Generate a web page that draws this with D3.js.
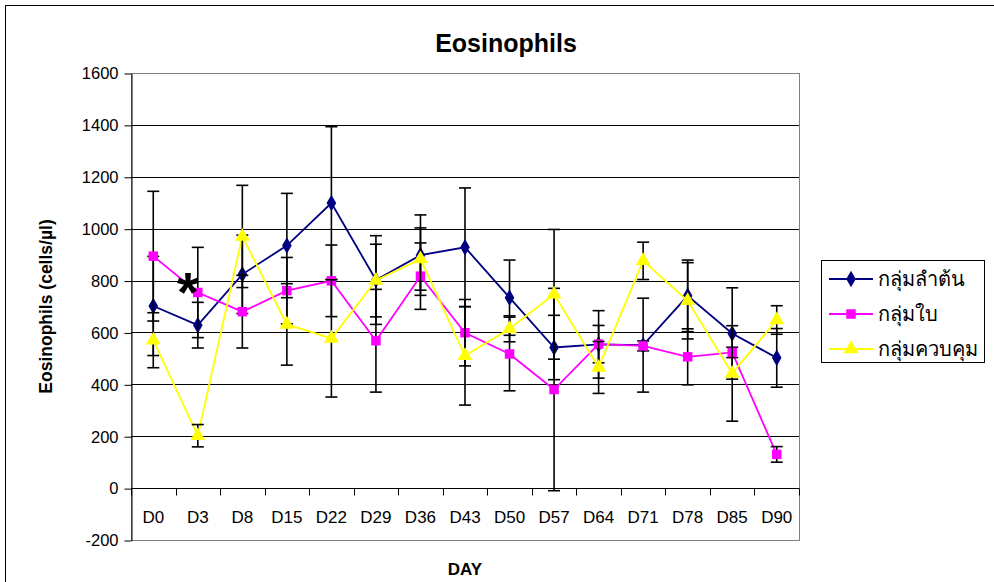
<!DOCTYPE html>
<html>
<head>
<meta charset="utf-8">
<script src="https://cdn.jsdelivr.net/npm/d3@7"></script>
<style>
  html, body { margin: 0; padding: 0; background: #fff; }
  svg { display: block; font-family: "Liberation Sans", Arial, sans-serif; }
</style>
</head>
<body>
<svg id="chart" width="994" height="582"></svg>
<script>
// Eosinophil counts per sampling day, mean with error for each group
const categories = ["D0", "D3", "D8", "D15", "D22", "D29", "D36", "D43", "D50", "D57", "D64", "D71", "D78", "D85", "D90"];

const seriesNames = ["กลุ่มลำต้น", "กลุ่มใบ", "กลุ่มควบคุม"];

const stemValues = [702, 628, 824, 935, 1099, 802, 898, 928, 734, 542, 554, 551, 741, 596, 502];
const stemErrors = [191, 88, 151, 201, 294, 171, 155, 229, 145, 124, 130, 181, 138, 176, 113];

const leafValues = [894, 754, 680, 761, 799, 568, 817, 599, 517, 380, 555, 548, 506, 523, 130];
const leafErrors = [250, 174, 140, 128, 138, 198, 128, 128, 142, 390, 72, 19, 108, 20, 30];

const controlValues = [570, 202, 970, 631, 577, 800, 883, 510, 614, 747, 465, 876, 722, 442, 648];
const controlErrors = [106, 43, 197, 157, 226, 140, 120, 190, 50, 250, 100, 72, 147, 184, 55];

const yTicks = [-200, 0, 200, 400, 600, 800, 1000, 1200, 1400, 1600];

const series = [
  { name: seriesNames[0], values: stemValues, errors: stemErrors, color: "#000080", symbol: d3.symbolDiamond, size: 80 },
  { name: seriesNames[1], values: leafValues, errors: leafErrors, color: "#FF00FF", symbol: d3.symbolSquare, size: 90 },
  { name: seriesNames[2], values: controlValues, errors: controlErrors, color: "#FFFF00", symbol: d3.symbolTriangle, size: 95 }
];

const svg = d3.select("#chart");
const plot = { left: 131, right: 799, top: 73, bottom: 540 };

const x = d3.scaleBand().domain(categories).range([plot.left, plot.right]);
const y = d3.scaleLinear().domain([-200, 1600]).range([plot.bottom, plot.top]);
const cx = d => x(d) + x.bandwidth() / 2;

// outer chart frame
svg.append("rect")
  .attr("x", 5.5).attr("y", 5.5).attr("width", 1000).attr("height", 600)
  .attr("fill", "#fff").attr("stroke", "#000").attr("stroke-width", 1);

// plot area frame
svg.append("rect")
  .attr("x", plot.left + 0.5).attr("y", plot.top + 0.5)
  .attr("width", plot.right - plot.left).attr("height", plot.bottom - plot.top)
  .attr("fill", "#fff").attr("stroke", "#808080").attr("stroke-width", 1);

// horizontal gridlines
svg.append("g")
  .selectAll("line")
  .data(yTicks.filter(v => v > -200 && v < 1600))
  .join("line")
  .attr("x1", plot.left).attr("x2", plot.right)
  .attr("y1", d => Math.round(y(d)) + 0.5).attr("y2", d => Math.round(y(d)) + 0.5)
  .attr("stroke", "#000").attr("stroke-width", 1);

// y axis
const yAxis = d3.axisLeft(y).tickValues(yTicks).tickFormat(d => String(d))
  .tickSize(7).tickSizeOuter(0).tickPadding(6);
const gy = svg.append("g").attr("transform", `translate(${plot.left + 0.5},0.5)`).call(yAxis);
gy.select(".domain").attr("stroke", "#000");
gy.selectAll(".tick line").attr("stroke", "#000");
gy.selectAll(".tick text")
  .attr("font-family", "Liberation Sans, Arial, sans-serif")
  .attr("font-size", 16.5).attr("fill", "#000");

// x axis on the zero line, ticks between categories
const gx = svg.append("g").attr("transform", `translate(0,${Math.round(y(0)) + 0.5})`);
gx.append("line")
  .attr("x1", plot.left).attr("x2", plot.right)
  .attr("stroke", "#000");
gx.selectAll("line.sep")
  .data(d3.range(categories.length + 1))
  .join("line")
  .attr("class", "sep")
  .attr("x1", i => Math.round(plot.left + i * x.step()) + 0.5)
  .attr("x2", i => Math.round(plot.left + i * x.step()) + 0.5)
  .attr("y1", 0).attr("y2", 7)
  .attr("stroke", "#000");
gx.selectAll("text")
  .data(categories)
  .join("text")
  .attr("x", d => cx(d))
  .attr("y", 34)
  .attr("text-anchor", "middle")
  .attr("font-size", 17)
  .attr("fill", "#000")
  .text(d => d);

// series: lines, error bars, markers
const line = d3.line().x((d, i) => cx(categories[i])).y(d => y(d));
series.forEach(s => {
  const g = svg.append("g");
  g.append("path")
    .attr("d", line(s.values))
    .attr("fill", "none")
    .attr("stroke", s.color)
    .attr("stroke-width", 1.8);

  const eb = g.append("g").attr("stroke", "#000").attr("stroke-width", 1.6);
  s.values.forEach((v, i) => {
    const px = cx(categories[i]);
    const hi = y(v + s.errors[i]);
    const lo = y(v - s.errors[i]);
    eb.append("line").attr("x1", px).attr("x2", px).attr("y1", hi).attr("y2", lo);
    eb.append("line").attr("x1", px - 6).attr("x2", px + 6).attr("y1", hi).attr("y2", hi);
    eb.append("line").attr("x1", px - 6).attr("x2", px + 6).attr("y1", lo).attr("y2", lo);
  });

  g.selectAll("path.marker")
    .data(s.values)
    .join("path")
    .attr("class", "marker")
    .attr("d", d3.symbol().type(s.symbol).size(s.size))
    .attr("transform", (d, i) => `translate(${cx(categories[i])},${y(d)})`)
    .attr("fill", s.color);
});

// significance mark at D3
svg.append("text")
  .attr("x", cx("D3") - 10)
  .attr("y", y(800) + 30)
  .attr("text-anchor", "middle")
  .attr("font-size", 56)
  .attr("font-weight", "bold")
  .attr("fill", "#000")
  .text("*");

// titles
svg.append("text")
  .attr("x", 506).attr("y", 52)
  .attr("text-anchor", "middle")
  .attr("font-size", 25).attr("font-weight", "bold")
  .text("Eosinophils");

svg.append("text")
  .attr("transform", `translate(52,${(plot.top + plot.bottom) / 2}) rotate(-90)`)
  .attr("text-anchor", "middle")
  .attr("font-size", 17.5).attr("font-weight", "bold")
  .text("Eosinophils (cells/µl)");

svg.append("text")
  .attr("x", 465).attr("y", 575)
  .attr("text-anchor", "middle")
  .attr("font-size", 17).attr("font-weight", "bold")
  .text("DAY");

// legend
const legend = svg.append("g");
legend.append("rect")
  .attr("x", 821.5).attr("y", 260.5).attr("width", 163).attr("height", 102)
  .attr("fill", "#fff").attr("stroke", "#000");
series.forEach((s, i) => {
  const ly = 279 + i * 35;
  legend.append("line")
    .attr("x1", 829).attr("x2", 873).attr("y1", ly).attr("y2", ly)
    .attr("stroke", s.color).attr("stroke-width", 1.8);
  legend.append("path")
    .attr("d", d3.symbol().type(s.symbol).size(s.size))
    .attr("transform", `translate(851,${ly})`)
    .attr("fill", s.color);
  legend.append("text")
    .attr("x", 878).attr("y", ly + 7)
    .attr("font-size", 20)
    .attr("font-family", "Liberation Sans, DejaVu Sans, Noto Sans, sans-serif")
    .text(s.name);
});
</script>
</body>
</html>
